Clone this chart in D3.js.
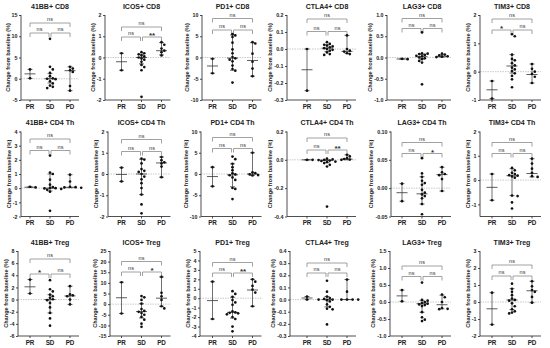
<!DOCTYPE html>
<html>
<head>
<meta charset="utf-8">
<script src="https://cdn.jsdelivr.net/npm/d3@7"></script>
<style>
body { margin: 0; background: #fff; }
svg { font-family: "Liberation Sans", Arial, sans-serif; }
</style>
</head>
<body>
<div id="chart"></div>
<script>
// groups on the x axis of every panel
var groups = ["PR", "SD", "PD"];

var titles = [
    "41BB+ CD8", "ICOS+ CD8", "PD1+ CD8", "CTLA4+ CD8", "LAG3+ CD8", "TIM3+ CD8",
    "41BB+ CD4 Th", "ICOS+ CD4 Th", "PD1+ CD4 Th", "CTLA4+ CD4 Th", "LAG3+ CD4 Th", "TIM3+ CD4 Th",
    "41BB+ Treg", "ICOS+ Treg", "PD1+ Treg", "CTLA4+ Treg", "LAG3+ Treg", "TIM3+ Treg"
];

// y axis range, tick step and decimals per panel
var yDomains = [
    [-5, 15], [-2, 2], [-10, 10], [-0.3, 0.2], [-1, 1], [-1, 2],
    [-2, 4], [-2, 2], [-10, 10], [-0.4, 0.2], [-0.05, 0.1], [-1.5, 2],
    [-6, 8], [-15, 25], [-4, 5], [-0.3, 0.4], [-1, 1.5], [-2, 3]
];
var yTickSteps = [5, 1, 5, 0.1, 0.5, 1, 1, 1, 5, 0.2, 0.05, 1, 2, 5, 1, 0.1, 0.5, 1];
var yTickDecimals = [0, 0, 0, 1, 1, 0, 0, 0, 0, 1, 2, 0, 0, 0, 0, 1, 1, 0];

// individual patient values (% change from baseline)
var prValues = [
    [2.2, 0.1], [0.2, -0.6], [-0.3, -3.7], [0.0, -0.245], [-0.03, -0.04], [-0.33, -0.95],
    [0.1, 0.05], [0.3, -0.35], [1.6, -2.9], [0.0, 0.0], [0.008, -0.023], [0.25, -0.83],
    [3.3, 1.0], [10.3, -4.4], [1.75, -2.2], [0.025, 0.0], [0.35, 0.02], [0.55, -1.33]
];
var sdValues = [
    [9.4, 2.8, 2.2, 1.4, 0.6, 0.1, 0.0, -0.1, -0.6, -1.1, -1.6, -1.9, -2.2],
    [0.25, 0.2, 0.15, 0.1, 0.05, 0.0, -0.05, -0.1, -0.2, -0.35, -0.45, -0.6, -1.85],
    [5.5, 5.2, 4.8, 3.5, 1.9, 1.0, 0.1, -0.2, -0.5, -0.9, -1.9, -2.7, -3.1, -5.9],
    [0.04, 0.03, 0.025, 0.02, 0.015, 0.01, 0.005, 0.0, -0.005, -0.01, -0.02, -0.03, -0.035],
    [0.59, 0.1, 0.09, 0.08, 0.06, 0.04, 0.03, 0.0, -0.02, -0.04, -0.08, -0.12, -0.63],
    [1.32, 1.25, 0.6, 0.45, 0.4, 0.3, 0.22, 0.14, 0.08, 0.02, -0.06, -0.15, -0.27, -0.55],
    [2.3, 1.1, 1.0, 0.6, 0.25, 0.08, 0.02, 0.0, -0.02, -0.05, -0.12, -0.25, -1.6],
    [0.72, 0.68, 0.5, 0.23, 0.15, 0.1, 0.0, -0.12, -0.25, -0.43, -0.66, -0.97, -1.43, -1.85],
    [4.1, 3.5, 2.4, 1.6, 0.9, 0.2, -0.1, -0.3, -0.8, -1.4, -3.3, -3.5, -5.9],
    [0.008, 0.003, 0.0, -0.002, -0.005, -0.008, -0.012, -0.016, -0.023, -0.035, -0.047, -0.33],
    [0.053, 0.026, 0.02, 0.013, 0.009, 0.006, -0.003, -0.008, -0.011, -0.014, -0.018, -0.028, -0.046],
    [0.5, 0.4, 0.3, 0.25, 0.2, 0.18, 0.15, 0.1, -0.64, -0.66, -0.92, -1.17],
    [3.2, 1.7, 1.35, 0.8, 0.55, 0.3, 0.05, -0.1, -0.55, -1.3, -2.2, -3.1, -4.3],
    [3.8, 3.2, 2.0, 0.2, -2.3, -3.2, -3.6, -4.2, -5.0, -6.0, -7.3, -9.2, -10.7],
    [0.75, 0.45, 0.15, -0.2, -0.45, -0.7, -1.4, -1.5, -1.55, -1.6, -1.7, -2.0, -2.2, -3.0, -3.5],
    [0.155, 0.065, 0.025, 0.012, 0.005, 0.0, 0.0, -0.005, -0.015, -0.04, -0.06, -0.075, -0.08, -0.205],
    [0.57, 0.06, 0.04, 0.0, -0.03, -0.05, -0.07, -0.09, -0.12, -0.3, -0.45, -0.52, -0.56],
    [1.08, 0.78, 0.6, 0.4, 0.2, 0.12, 0.08, -0.08, -0.25, -0.43, -0.55, -0.62, -0.67]
];
var pdValues = [
    [2.8, 2.4, 2.0, 1.6, -1.7, -2.8],
    [0.72, 0.6, 0.42, 0.32, 0.25, 0.1],
    [3.6, 3.3, 0.9, -1.0, -2.6, -4.4],
    [0.08, 0.0, -0.01, -0.015, -0.025, -0.03],
    [0.09, 0.07, 0.05, 0.03, 0.02, 0.01],
    [0.27, 0.1, 0.0, -0.08, -0.18, -0.4],
    [0.95, 0.47, 0.1, 0.07, 0.05, 0.03],
    [0.8, 0.65, 0.55, 0.5, 0.35, -0.15],
    [5.0, 0.4, 0.2, -0.1, -0.25, -0.35],
    [0.036, 0.024, 0.012, 0.006, 0.002, 0.0],
    [0.037, 0.028, 0.025, 0.023, 0.016, -0.005],
    [0.88, 0.68, 0.47, 0.3, 0.16, 0.13],
    [2.2, 0.85, 0.7, 0.55, 0.0, -0.8],
    [12.8, 5.3, 3.7, 2.0, -1.0, -2.0],
    [2.0, 1.75, 1.3, 0.9, 0.6, -0.85],
    [0.165, 0.065, 0.0, 0.0, 0.0, 0.0],
    [0.22, 0.14, 0.0, -0.18, -0.2, -0.21],
    [1.22, 0.92, 0.7, 0.6, 0.3, -0.04]
];

// centre line and whisker ends per group [PR, SD, PD]
var centerValues = [
    [1.15, 0.0, 1.9], [-0.2, 0.0, 0.32], [-2.0, -0.15, -0.7], [-0.122, 0.005, -0.014], [-0.035, 0.02, 0.02], [-0.64, 0.2, -0.1],
    [0.07, 0.0, 0.06], [-0.02, 0.0, 0.52], [-0.6, -0.2, 0.0], [0.0, -0.005, 0.005], [-0.008, -0.01, 0.024], [-0.3, 0.18, 0.27],
    [2.1, 0.0, 0.6], [3.0, -3.5, 2.8], [-0.25, -1.5, 0.87], [0.013, 0.0, 0.0], [0.18, -0.05, -0.08], [-0.4, 0.12, 0.66]
];
var lowValues = [
    [0.1, -1.0, -2.8], [-0.6, -0.3, 0.12], [-3.7, -3.0, -4.4], [-0.245, -0.015, -0.025], [-0.04, -0.03, 0.01], [-0.95, -0.05, -0.4],
    [0.05, -0.2, 0.03], [-0.35, -0.97, -0.15], [-2.9, -3.0, -0.3], [0.0, -0.02, 0.0], [-0.023, -0.028, -0.005], [-0.83, -0.64, 0.13],
    [1.0, -2.2, -0.8], [-4.4, -6.5, -1.0], [-2.2, -2.1, -0.85], [0.0, -0.06, 0.0], [0.02, -0.3, -0.2], [-1.33, -0.45, -0.04]
];
var highValues = [
    [2.2, 1.2, 2.8], [0.2, 0.15, 0.7], [-0.3, 5.3, 3.5], [0.0, 0.025, 0.08], [-0.03, 0.07, 0.06], [-0.33, 0.6, 0.27],
    [0.1, 1.0, 0.95], [0.3, 0.7, 0.8], [1.6, 2.4, 5.0], [0.0, 0.0, 0.035], [0.008, 0.02, 0.037], [0.25, 0.47, 0.88],
    [3.3, 0.8, 2.2], [10.3, 0.2, 12.8], [1.75, 0.1, 2.0], [0.025, 0.025, 0.165], [0.35, 0.05, 0.2], [0.55, 0.78, 1.22]
];

// significance: [PR vs SD, SD vs PD, PR vs PD]
var sigLabels = [
    ["ns", "ns", "ns"], ["ns", "**", "ns"], ["ns", "ns", "ns"], ["ns", "ns", "ns"], ["ns", "ns", "ns"], ["*", "ns", "ns"],
    ["ns", "ns", "ns"], ["ns", "ns", "ns"], ["ns", "ns", "ns"], ["ns", "**", "ns"], ["ns", "*", "ns"], ["ns", "ns", "ns"],
    ["*", "ns", "ns"], ["ns", "*", "ns"], ["ns", "**", "ns"], ["ns", "ns", "ns"], ["ns", "ns", "ns"], ["ns", "ns", "ns"]
];

// ---- layout (pixels) ----
var colCenters = [50, 141.5, 232.5, 327, 422, 512];
var rowTops = [15, 131.5, 251];
var plotHeight = 85;
var axisLeft = [21, 105, 202, 287, 387, 480, 21, 108, 201, 287, 391, 480, 18, 110, 200, 290, 390, 480];
var bracketTop = [8, 12, 3.5, 4, 3.5, 4, 7.5, 8, 6, 6.5, 11, 11, 8, 10.5, 11.5, 12, 15, 14];
var bracketLow = [18, 22, 15, 16.5, 13.5, 15, 19, 20, 17, 18.5, 22, 22, 23, 21, 22, 22, 25.5, 25];

var width = 550, height = 348;
var svg = d3.select("#chart").append("svg")
    .attr("width", width)
    .attr("height", height);

function fmt(v, dec) {
    return d3.format("." + dec + "f")(v).replace("\u2212", "-");
}

// simple dot dodge so equal values sit side by side
function dodge(vals, y, r, step) {
    var placed = [];
    return vals.map(function (v) {
        var py = y(v);
        var k = 0, dx = 0;
        while (true) {
            dx = (k % 2 === 1 ? 1 : -1) * Math.ceil(k / 2) * step;
            var ok = placed.every(function (p) {
                return Math.hypot(p[0] - dx, p[1] - py) >= 2 * r + 0.2;
            });
            if (ok) break;
            k++;
        }
        placed.push([dx, py]);
        return { v: v, dx: dx, py: py };
    });
}

function drawPanel(i) {
    var row = Math.floor(i / 6), col = i % 6;
    var c = colCenters[col];
    var top = rowTops[row], bottom = top + plotHeight;
    var left = axisLeft[i];

    var x = d3.scalePoint().domain(groups).range([c - 20, c + 20]);
    var y = d3.scaleLinear().domain(yDomains[i]).range([bottom, top]);
    var right = x("PD") + 9;

    var g = svg.append("g").attr("class", "panel");

    // title
    g.append("text")
        .attr("x", c)
        .attr("y", top - 6.5)
        .attr("text-anchor", "middle")
        .style("font-size", "7px")
        .style("font-weight", "bold")
        .style("fill", "#222")
        .text(titles[i]);

    // dotted baseline at 0
    g.append("line")
        .attr("x1", left).attr("x2", right)
        .attr("y1", y(0)).attr("y2", y(0))
        .style("stroke", "#c4c4c4")
        .style("stroke-width", 0.9)
        .style("stroke-dasharray", "1.5,1");

    // y axis
    var step = yTickSteps[i];
    var k0 = Math.ceil(yDomains[i][0] / step - 1e-9), k1 = Math.floor(yDomains[i][1] / step + 1e-9);
    var ticks = d3.range(k0, k1 + 1).map(function (k) { return +(k * step).toFixed(4); });
    var yAxis = g.append("g")
        .attr("transform", "translate(" + left + ",0)")
        .call(d3.axisLeft(y).tickValues(ticks).tickSize(2).tickPadding(1.5)
            .tickFormat(function (d) { return fmt(d, yTickDecimals[i]); }));
    yAxis.select(".domain").attr("d", "M0," + top + "V" + bottom).style("stroke", "#222").style("stroke-width", 0.8);
    yAxis.selectAll(".tick line").style("stroke", "#222").style("stroke-width", 0.8);
    yAxis.selectAll(".tick text")
        .style("font-size", "5.3px")
        .style("font-weight", "bold")
        .style("font-family", "'Liberation Sans', Arial, sans-serif")
        .style("fill", "#222");

    var maxW = 0;
    yAxis.selectAll(".tick text").each(function () {
        maxW = Math.max(maxW, this.getBBox().width);
    });

    // y title
    g.append("text")
        .attr("transform", "translate(" + (left - maxW - 5.5) + "," + ((top + bottom) / 2) + ") rotate(-90)")
        .attr("text-anchor", "middle")
        .style("font-size", "5.6px")
        .style("font-weight", "bold")
        .style("fill", "#222")
        .text("Change from baseline (%)");

    // x axis
    g.append("line")
        .attr("x1", left).attr("x2", right)
        .attr("y1", bottom).attr("y2", bottom)
        .style("stroke", "#222").style("stroke-width", 0.8);
    g.selectAll(".xtick").data(groups).enter().append("line")
        .attr("x1", function (d) { return x(d); })
        .attr("x2", function (d) { return x(d); })
        .attr("y1", bottom).attr("y2", bottom + 2)
        .style("stroke", "#222").style("stroke-width", 0.8);
    g.selectAll(".xlabel").data(groups).enter().append("text")
        .attr("x", function (d) { return x(d); })
        .attr("y", bottom + 8.5)
        .attr("text-anchor", "middle")
        .style("font-size", "6.3px")
        .style("font-weight", "bold")
        .style("fill", "#222")
        .text(function (d) { return d; });

    // significance brackets
    var yTop = top + bracketTop[i], yLow = top + bracketLow[i];
    var brackets = [
        { x1: x("PR"), x2: x("SD") - 1, yb: yLow, label: sigLabels[i][0] },
        { x1: x("SD") + 1, x2: x("PD"), yb: yLow, label: sigLabels[i][1] },
        { x1: x("PR"), x2: x("PD"), yb: yTop, label: sigLabels[i][2] }
    ];
    brackets.forEach(function (b) {
        g.append("path")
            .attr("d", "M" + b.x1 + "," + (b.yb + 4) + "V" + b.yb + "H" + b.x2 + "V" + (b.yb + 4))
            .style("fill", "none")
            .style("stroke", "#8a8a8a")
            .style("stroke-width", 0.8);
        var star = b.label !== "ns";
        g.append("text")
            .attr("x", (b.x1 + b.x2) / 2)
            .attr("y", star ? b.yb + 1.2 : b.yb - 1.6)
            .attr("text-anchor", "middle")
            .style("font-size", star ? "8px" : "5.5px")
            .style("font-weight", star ? "bold" : "normal")
            .style("fill", "#333")
            .text(b.label);
    });

    // whiskers and centre lines
    var series = [prValues[i], sdValues[i], pdValues[i]];
    groups.forEach(function (grp, j) {
        var gx = x(grp);
        var lo = y(lowValues[i][j]), hi = y(highValues[i][j]), mid = y(centerValues[i][j]);
        g.append("line")
            .attr("x1", gx).attr("x2", gx).attr("y1", lo).attr("y2", hi)
            .style("stroke", "#333").style("stroke-width", 0.7);
        [lo, hi].forEach(function (yy) {
            g.append("line")
                .attr("x1", gx - 2.5).attr("x2", gx + 2.5).attr("y1", yy).attr("y2", yy)
                .style("stroke", "#333").style("stroke-width", 0.7);
        });
        g.append("line")
            .attr("x1", gx - 5.5).attr("x2", gx + 5.5).attr("y1", mid).attr("y2", mid)
            .style("stroke", "#333").style("stroke-width", 0.8);

        var pts = dodge(series[j], y, 1.35, 2.8);
        g.selectAll(".dot" + j).data(pts).enter().append("circle")
            .attr("cx", function (d) { return gx + d.dx; })
            .attr("cy", function (d) { return d.py; })
            .attr("r", 1.35)
            .style("fill", "#111");
    });
}

for (var i = 0; i < titles.length; i++) {
    drawPanel(i);
}
</script>
</body>
</html>
